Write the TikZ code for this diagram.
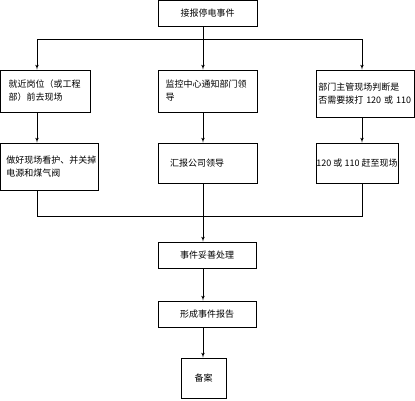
\documentclass[tikz,border=0pt]{standalone}
\usepackage{fontspec}
\newfontfamily\cjk{Noto Sans CJK SC}
\usetikzlibrary{arrows, positioning, calc}
\tikzstyle{process} = [rectangle, draw=black, line width=0.7pt, font=\cjk\fontsize{9}{13}\selectfont, inner sep=0pt]
\tikzstyle{note} = [process, align=left]
\tikzstyle{line} = [draw, line width=0.7pt]
\tikzstyle{connector} = [draw, line width=0.7pt, -latex']

\begin{document}
\begin{tikzpicture}[x=1pt, y=-1pt]
    \useasboundingbox (0,0) rectangle (415,400);
    % Columns and joints
    \coordinate (lcol) at (37,0);
    \coordinate (mcol) at (203,0);
    \coordinate (rcol) at (362,0);
    \coordinate (split) at (203,39);
    \coordinate (join) at (203,216.5);

    % Nodes
    \node [process, minimum width=99pt, minimum height=26pt] (start) at (207.5,13.5) {接报停电事件};
    \node [note, minimum width=90pt, minimum height=42pt, text width=74pt] (left1) at (45.75,91) {就近岗位（或工程\\部）前去现场};
    \node [note, minimum width=99pt, minimum height=42pt, text width=84pt] (mid1) at (207.5,91) {监控中心通知部门领\\导};
    \node [note, minimum width=98.5pt, minimum height=47pt, text width=94pt] (right1) at (365.25,93.5) {部门主管现场判断是\\否需要拨打 120 或 110};
    \node [note, minimum width=97.5pt, minimum height=47pt, text width=86pt] (left2) at (49.25,166.5) {做好现场看护、并关掉\\电源和煤气阀};
    \node [note, minimum width=99pt, minimum height=40pt, text width=75pt] (mid2) at (207.5,163) {汇报公司领导};
    \node [process, minimum width=82pt, minimum height=40pt] (right2) at (357,163) {120 或 110 赶至现场};
    \node [process, minimum width=98pt, minimum height=26pt] (handle) at (207,255) {事件妥善处理};
    \node [process, minimum width=98pt, minimum height=26pt] (report) at (207,314) {形成事件报告};
    \node [process, minimum width=45pt, minimum height=40pt] (archive) at (203.5,378) {备案};

    % Arrows
    \path [line] (start.south -| mcol) -- (split);
    \path [line] (split -| lcol) -- (split -| rcol);
    \path [connector] (split -| lcol) -- (left1.north -| lcol);
    \path [connector] (split) -- (mid1.north -| mcol);
    \path [connector] (split -| rcol) -- (right1.north -| rcol);
    \path [connector] (left1.south -| lcol) -- (left2.north -| lcol);
    \path [connector] (mid1.south -| mcol) -- (mid2.north -| mcol);
    \path [connector] (right1.south -| rcol) -- (right2.north -| rcol);
    \path [line] (left2.south -| lcol) |- (join) -| (right2.south -| rcol);
    \path [line] (mid2.south -| mcol) -- (join);
    \path [connector] (join) -- (handle.north -| mcol);
    \path [connector] (handle.south -| mcol) -- (report.north -| mcol);
    \path [connector] (report.south -| mcol) -- (archive.north -| mcol);
\end{tikzpicture}
\end{document}
